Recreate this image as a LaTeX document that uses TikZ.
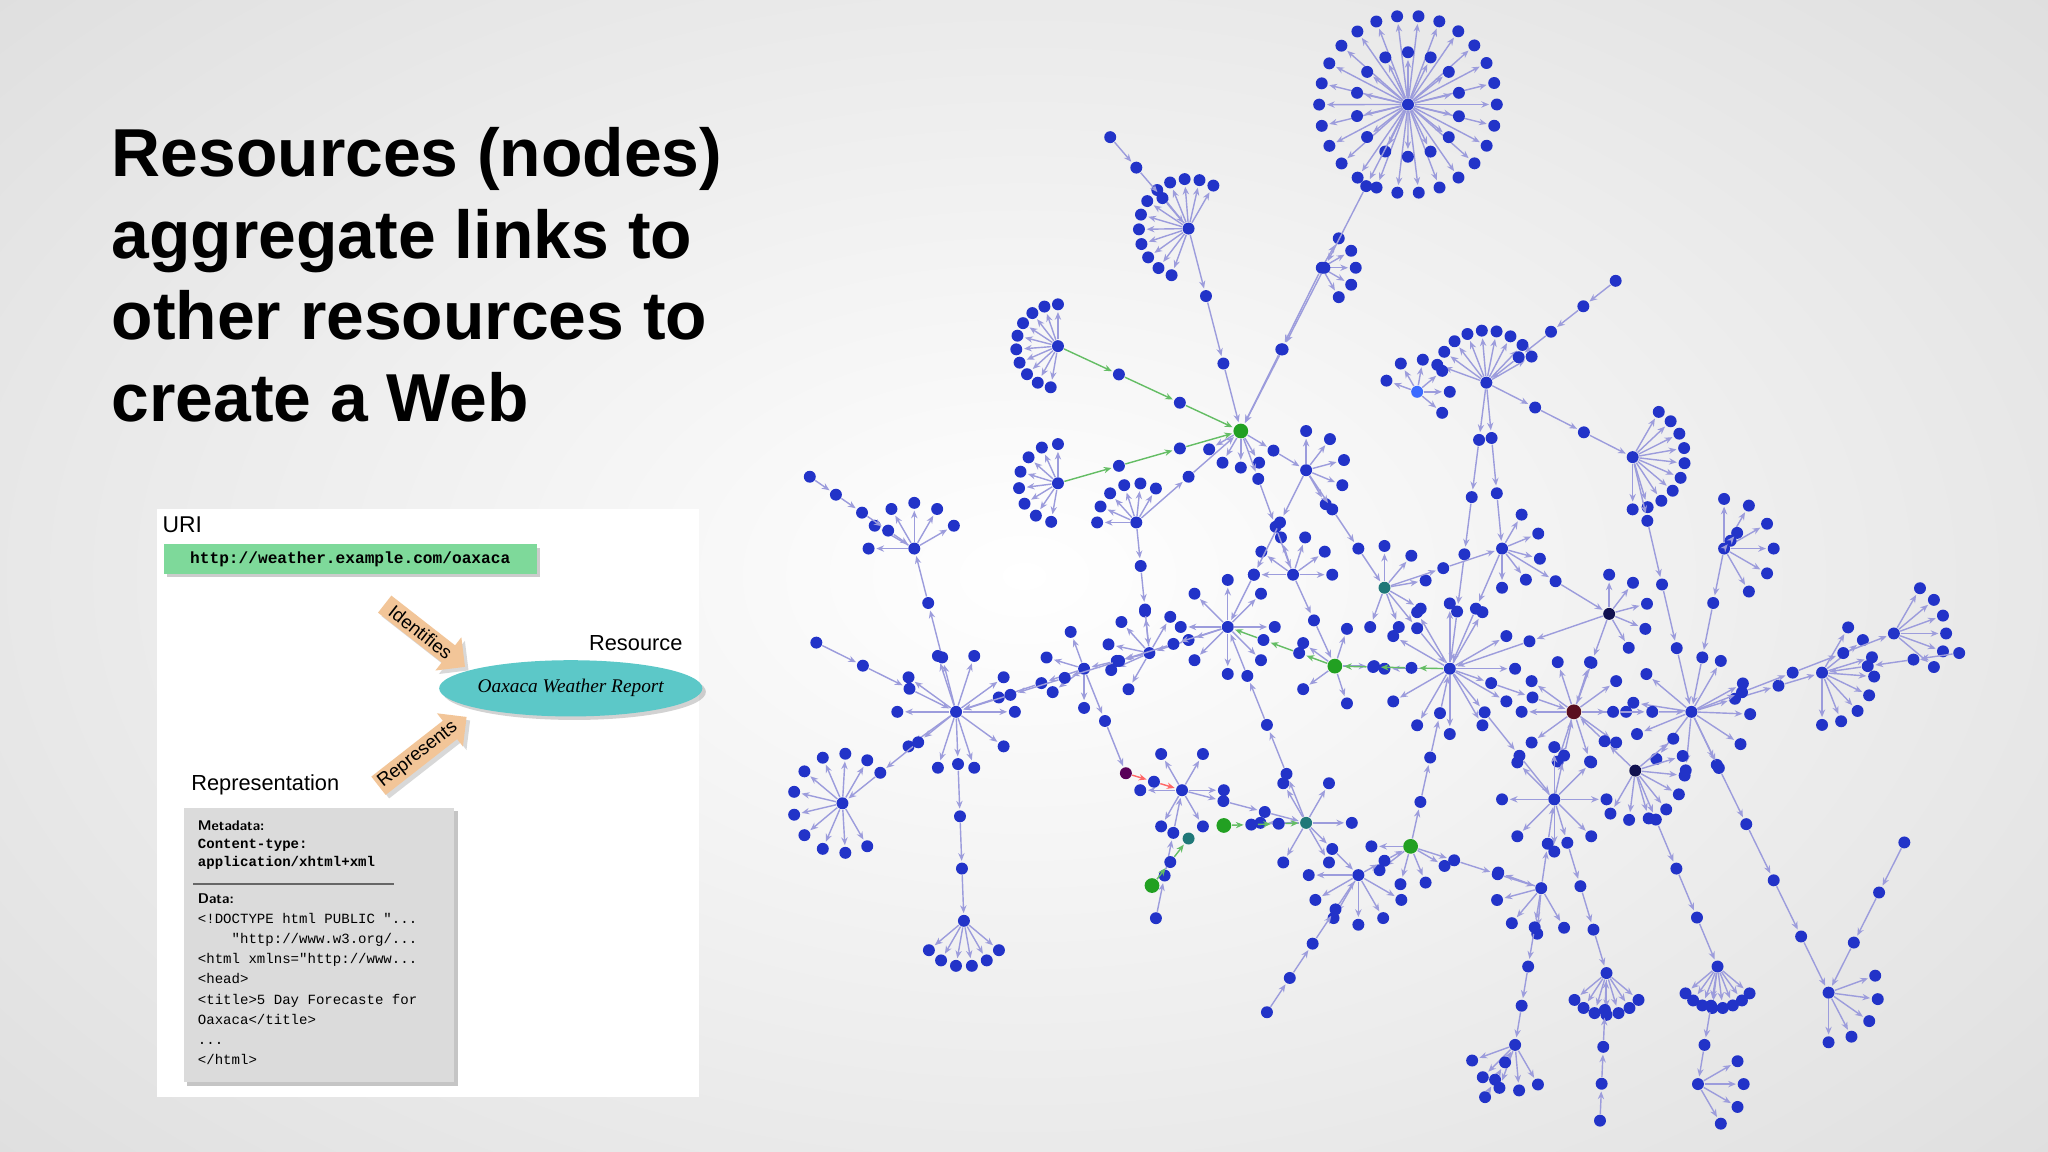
\documentclass[tikz,border=0pt]{standalone}
\usepackage{fontspec}
\setmainfont{Liberation Sans}
\newfontfamily\monof{Liberation Mono}
\newfontfamily\serif{Liberation Serif}
\usetikzlibrary{calc,shapes.arrows,shapes.geometric,arrows.meta,shadows}
\definecolor{vblue}{HTML}{2233C8}
\definecolor{vedge}{HTML}{9C9CDC}
\definecolor{vgreen}{HTML}{22A022}
\definecolor{vteal}{HTML}{207878}
\definecolor{vdark}{HTML}{121250}
\definecolor{vred}{HTML}{5A1020}
\definecolor{vlight}{HTML}{3B6BFF}
\definecolor{uri}{HTML}{7ED99A}
\definecolor{arr}{HTML}{F2C598}
\definecolor{ell}{HTML}{5CC8C8}
\tikzset{
 vb/.style={circle,fill=vblue,inner sep=0pt,minimum size=3.4pt},
 vg/.style={vb,fill=vgreen,minimum size=4.2pt},
 vt/.style={vb,fill=vteal},
 vd/.style={vb,fill=vdark},
 vr/.style={vb,fill=vred,minimum size=4.2pt},
 vl/.style={vb,fill=vlight},
 edge/.style={draw=vedge,line width=0.4pt,-{Stealth[length=2.2pt,width=1.8pt]},shorten >=0.3pt},
 gedge/.style={edge,draw=vgreen!70},
 fat/.style={single arrow,fill=arr,draw=none,single arrow head extend=2.5pt,minimum height=29pt,minimum width=12pt,inner sep=0.5pt,font=\fontsize{5.3}{6}\selectfont,drop shadow={opacity=0.3,shadow xshift=1pt,shadow yshift=-1pt}},
}
\newcommand\hs[8]{% name x y n r a0 a1 style
 \node[#8] (#1) at (#2,#3) {};
 \foreach \i in {1,...,#4}{%
  \pgfmathsetmacro\ang{#6+(#7-#6)*(\i-1)/max(#4-1,1)}%
  \node[vb] (#1-\i) at ($(#1)+(\ang:#5)$) {};
  \draw[edge] (#1) -- (#1-\i);}}
\newcommand\ch[5][edge]{% id a b k
 \foreach \i in {1,...,#5}{\node[vb] (#2-\i) at ($(#3)!{\i/(#5+1)}!(#4)$) {};}
 \draw[#1] (#3) -- (#2-1);
 \foreach \i [evaluate=\i as \j using int(\i+1)] in {1,...,#5}{\ifnum\i<#5 \draw[#1] (#2-\i) -- (#2-\j);\fi}
 \draw[#1] (#2-#5) -- (#4);}
\begin{document}
\begin{tikzpicture}[x=0.013061cm,y=-0.013061cm]
\useasboundingbox (0,0) rectangle (1568,882);
\shade[inner color=white,outer color=black!14] (-400,-300) rectangle (1968,1182);
% title
\node[anchor=north west,align=left,font=\bfseries\fontsize{19.3}{23.2}\selectfont,inner sep=0pt] (title) at (85,97)
 {Resources (nodes)\\aggregate links to\\other resources to\\create a Web};
% inset
\fill[white] (120,390) rectangle (535,840);
\node[anchor=west,inner sep=0pt,font=\fontsize{6.5}{7}\selectfont] (urilab) at (124,402) {URI};
\node[fill=uri,anchor=north west,minimum width=106pt,minimum height=8.5pt,inner sep=0pt,drop shadow={opacity=0.4,shadow xshift=1pt,shadow yshift=-1pt},font=\monof\bfseries\fontsize{4.6}{5}\selectfont] (uribox) at (125,416) {http://weather.example.com/oaxaca};
\node[ellipse,fill=ell,minimum width=66pt,minimum height=16pt,inner sep=0pt,drop shadow={opacity=0.35,shadow xshift=1pt,shadow yshift=-1pt},font=\serif\itshape\fontsize{5.5}{6}\selectfont] (res) at (437,527) {Oaxaca Weather Report};
\node[anchor=east,inner sep=0pt,font=\fontsize{6.2}{7}\selectfont] (reslab) at (523,492) {Resource};
\node[fat,rotate=-38] (ident) at (322,484) {Identifies};
\node[fat,rotate=38] (repr) at (320,578) {Represents};
\node[anchor=west,inner sep=0pt,font=\fontsize{6.2}{7}\selectfont] (replab) at (146,601) {Representation};
\node[fill=black!14,anchor=north west,minimum width=77pt,minimum height=78pt,inner sep=0pt,drop shadow={opacity=0.45,shadow xshift=1pt,shadow yshift=-1pt}] (repbox) at (140,618) {};
\node[anchor=north west,align=left,inner sep=0pt,font=\monof\bfseries\fontsize{4}{5.05}\selectfont] (meta) at (151,628)
 {\textsf{Metadata:}\\Content-type:\\application/xhtml+xml};
\draw[black!60,line width=0.5pt] (148,677) -- (302,677);
\node[anchor=north west,align=left,inner sep=0pt,font=\monof\fontsize{4}{5.7}\selectfont] (data) at (151,684)
 {\textsf{\bfseries Data:}\\<!DOCTYPE html PUBLIC "...\\\ \ \ \ "http://www.w3.org/...\\<html xmlns="http://www...\\<head>\\<title>5 Day Forecaste for\\Oaxaca</title>\\...\\</html>};
% network hubs
\hs{T}{1078}{80}{26}{68}{0}{346}{vb}
\foreach \i in {1,...,14}{\pgfmathsetmacro\ang{13+25.7*(\i-1)}\node[vb] (Ti-\i) at ($(T)+(\ang:40)$) {};
 \draw[edge] (T)--(Ti-\i);}
\hs{G}{950}{330}{4}{28}{60}{150}{vg}
\hs{TL}{910}{175}{12}{38}{110}{300}{vb}
\hs{SA}{810}{265}{10}{32}{100}{270}{vb}
\hs{SB}{810}{370}{8}{30}{100}{270}{vb}
\hs{SC}{1012}{205}{5}{26}{-60}{60}{vb}
\hs{C}{1138}{293}{9}{40}{200}{330}{vb}
\hs{CL}{1085}{300}{6}{25}{200}{400}{vl}
\hs{R1}{1250}{350}{10}{40}{-60}{90}{vb}
\hs{M}{1110}{512}{12}{50}{0}{330}{vb}
\hs{D}{1205}{545}{10}{40}{0}{324}{vr}
\hs{RH}{1295}{545}{10}{45}{-60}{220}{vb}
\hs{R2}{1395}{515}{8}{40}{-60}{90}{vb}
\hs{L}{732}{545}{10}{45}{0}{324}{vb}
\hs{FL}{645}{615}{10}{38}{60}{300}{vb}
\hs{L2}{700}{420}{6}{35}{180}{330}{vb}
\hs{B}{738}{705}{6}{35}{40}{140}{vb}
\hs{P1}{1000}{630}{6}{35}{0}{300}{vt}
\hs{P2}{1040}{670}{6}{38}{30}{180}{vb}
\hs{Q1}{1190}{612}{8}{40}{0}{315}{vb}
\hs{Q2}{1252}{590}{8}{38}{-40}{120}{vd}
\hs{Q3}{1315}{740}{8}{32}{40}{140}{vb}
\hs{Q4}{1230}{745}{7}{32}{40}{140}{vb}
\hs{Q5}{1160}{800}{5}{35}{60}{160}{vb}
\hs{Q6}{1300}{830}{4}{35}{-30}{60}{vb}
\hs{Q7}{1400}{760}{5}{38}{-20}{90}{vb}
\hs{N1}{880}{500}{6}{32}{120}{300}{vb}
\hs{N2}{940}{480}{8}{36}{0}{315}{vb}
\hs{N3}{990}{440}{6}{30}{180}{360}{vb}
\hs{N4}{1060}{450}{6}{32}{-90}{110}{vt}
\hs{N5}{905}{605}{6}{32}{0}{300}{vb}
\hs{N6}{1320}{420}{6}{38}{-90}{60}{vb}
\hs{N7}{1450}{485}{6}{40}{-60}{40}{vb}
\hs{N8}{870}{400}{6}{30}{180}{300}{vb}
\hs{G2}{1022}{510}{5}{30}{0}{288}{vg}
\hs{X}{1000}{360}{5}{30}{-90}{60}{vb}
\hs{Y}{1150}{420}{5}{30}{-60}{90}{vb}
\hs{Z}{1180}{680}{5}{35}{60}{200}{vb}
\hs{W}{1080}{648}{5}{30}{30}{180}{vg}
\hs{K}{830}{512}{4}{30}{90}{250}{vb}
\hs{H}{1232}{470}{5}{30}{-90}{60}{vd}
\node[vb,fill=violet!70!black] (V) at (862,592) {};
\node[vb] (FA) at (620,365) {};
\node[vb] (FB) at (625,492) {};
\node[vb] (FC) at (850,105) {};
\node[vb] (FD) at (1237,215) {};
\node[vb] (FE) at (1330,408) {};
\node[vb] (FF) at (1500,500) {};
\node[vb] (FG) at (1137,840) {};
\node[vb] (FH) at (1225,858) {};
\node[vb] (FI) at (1458,645) {};
\node[vb] (FJ) at (970,775) {};
\node[vb] (FK) at (885,703) {};
\node[vg] (FL2) at (882,678) {};
\node[vg] (FM) at (937,632) {};
\node[vt] (FN) at (910,642) {};
% chains
\ch{c1}{T}{G}{3}
\ch{c2}{TL}{G}{2}
\ch[gedge]{c3}{SA}{G}{2}
\ch[gedge]{c4}{SB}{G}{2}
\ch{c5}{SC}{G}{1}
\ch{c6}{G}{X}{1}
\ch{c7}{G}{N3}{2}
\ch{c8}{X}{N4}{2}
\ch{c9}{N4}{M}{1}
\ch{c10}{C}{M}{4}
\ch{c11}{C}{R1}{2}
\ch{c12}{R1}{RH}{3}
\ch{c13}{Y}{M}{1}
\ch{c14}{C}{Y}{2}
\ch{c15}{M}{D}{2}
\ch{c16}{D}{RH}{2}
\ch{c17}{RH}{R2}{2}
\ch{c18}{RH}{N7}{3}
\ch{c19}{N6}{RH}{2}
\ch[gedge]{c20}{M}{G2}{2}
\ch[gedge]{c21}{G2}{N2}{2}
\ch{c22}{N2}{N1}{1}
\ch{c23}{N1}{K}{1}
\ch{c24}{K}{L}{2}
\ch{c25}{L}{L2}{2}
\ch{c26}{L}{FL}{2}
\ch{c27}{L}{B}{3}
\ch{c28}{K}{V}{1}
\ch[edge,draw=red!60]{c29}{V}{N5}{1}
\ch{c30}{N5}{P1}{2}
\ch{c31}{P1}{P2}{1}
\ch{c32}{P2}{W}{1}
\ch{c33}{W}{M}{3}
\ch{c34}{W}{Z}{2}
\ch{c35}{Z}{Q1}{1}
\ch{c36}{Q1}{D}{1}
\ch{c37}{Q2}{D}{1}
\ch{c38}{Q2}{Q3}{3}
\ch{c39}{Q1}{Q4}{3}
\ch{c40}{Z}{Q5}{3}
\ch{c41}{Q3}{Q6}{2}
\ch{c42}{RH}{Q7}{4}
\ch{c43}{H}{D}{1}
\ch{c44}{H}{M}{1}
\ch{c45}{Y}{H}{1}
\ch{c46}{N8}{G}{1}
\ch{c47}{N8}{N1}{2}
\ch{c48}{X}{N2}{2}
\ch{c49}{N3}{G2}{1}
\ch{c50}{P1}{N2}{3}
\ch{c51}{FA}{L2}{3}
\ch{c52}{FB}{L}{2}
\ch{c53}{FC}{TL}{2}
\ch{c54}{FD}{C}{3}
\ch{c55}{FE}{N6}{1}
\ch{c56}{FF}{R2}{2}
\ch{c57}{FG}{Q5}{2}
\ch{c58}{FH}{Q4}{3}
\ch{c59}{FI}{Q7}{2}
\ch{c60}{FJ}{P2}{3}
\ch{c61}{FK}{N5}{2}
\ch[gedge]{c62}{FL2}{FN}{1}
\ch[gedge]{c63}{FM}{P1}{2}
\ch{c64}{M}{Q1}{2}
\ch{c65}{N4}{Y}{1}
\ch{c66}{N2}{L}{4}
\end{tikzpicture}
\end{document}
